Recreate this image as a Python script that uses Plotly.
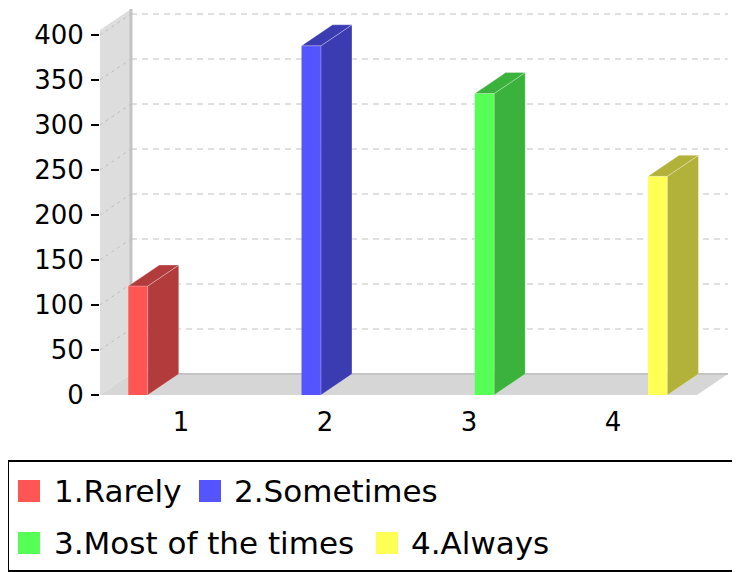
import plotly.graph_objects as go

# data
categories = ["1", "2", "3", "4"]
series_names = ["1.Rarely", "2.Sometimes", "3.Most of the times", "4.Always"]
values = [121, 388, 335, 243]
front_colors = ["#ff5555", "#5555ff", "#55ff55", "#ffff55"]
side_colors = ["#b23b3b", "#3b3bb2", "#3bb23b", "#b2b23b"]
y_ticks = [0, 50, 100, 150, 200, 250, 300, 350, 400]

# page has an 8px body margin, so the figure is drawn 8px smaller
W, H = 732, 564
L, R, T, B = 92, 5, 0, 177
plot_w = W - L - R
plot_h = H - T - B
px_x = 144.0   # pixels per category
px_y = 0.9     # pixels per unit

x_lo = 0.4375
x_range = [x_lo, x_lo + plot_w / px_x]
y_range = [0, plot_h / px_y]

DX = 31 / px_x      # 3d depth offset in x units
DY = 21 / px_y      # 3d depth offset in y units
wall_top = 405.6
floor_right = 4.583
bar_w = 0.135
slot0, slot_step = -0.366, 0.203


# screen pixel (as in the 740x572 window) -> paper coords
def pxx(p):
    return (p - 8 - L) / plot_w


def pxy(p):
    return (H - B - (p - 8)) / plot_h


fig = go.Figure()

shapes = []
# back wall
shapes.append(dict(type="path", layer="below", xref="x", yref="y",
                   path=f"M{x_lo},0 L{x_lo},{wall_top} L{x_lo+DX},{wall_top+DY} L{x_lo+DX},{DY} Z",
                   fillcolor="#dddddd", line=dict(width=0)))
shapes.append(dict(type="line", layer="below", xref="x", yref="y",
                   x0=x_lo+DX, x1=x_lo+DX, y0=DY, y1=wall_top+DY,
                   line=dict(color="#c4c4c4", width=3)))
# floor
shapes.append(dict(type="path", layer="below", xref="x", yref="y",
                   path=f"M{x_lo},0 L{floor_right},0 L{floor_right+DX},{DY} L{x_lo+DX},{DY} Z",
                   fillcolor="#d6d6d6", line=dict(width=0)))
shapes.append(dict(type="line", layer="below", xref="x", yref="y",
                   x0=x_lo+DX, x1=floor_right+DX, y0=DY, y1=DY,
                   line=dict(color="#c4c4c4", width=2)))
# grid lines on the back wall
for t in y_ticks[1:]:
    shapes.append(dict(type="line", layer="below", xref="x", yref="y",
                       x0=x_lo+DX, x1=floor_right+DX, y0=t+DY, y1=t+DY,
                       line=dict(color="#c0c0c0", width=1, dash="6px,5px")))
    shapes.append(dict(type="line", layer="below", xref="x", yref="y",
                       x0=x_lo, x1=x_lo+DX, y0=t, y1=t+DY,
                       line=dict(color="#bdbdbd", width=1, dash="3px,4px")))

# bars: front face + side/top faces
for i, (name, v) in enumerate(zip(series_names, values)):
    cx = i + 1
    off = slot0 + i * slot_step
    xl = cx + off
    xr = xl + bar_w
    fig.add_trace(go.Bar(x=[cx], y=[v], width=[bar_w], offset=[off], name=name,
                         marker=dict(color=front_colors[i], line=dict(width=0)),
                         showlegend=False))
    fig.add_trace(go.Scatter(x=[xr, xr+DX, xr+DX, xr, xr], y=[0, DY, v+DY, v, 0],
                             mode="lines", fill="toself", fillcolor=side_colors[i],
                             line=dict(color="rgba(255,255,255,0.35)", width=0.8),
                             hoverinfo="skip", showlegend=False))
    fig.add_trace(go.Scatter(x=[xl, xl+DX, xr+DX, xr, xl], y=[v, v+DY, v+DY, v, v],
                             mode="lines", fill="toself", fillcolor=side_colors[i],
                             line=dict(color="rgba(255,255,255,0.35)", width=0.8),
                             hoverinfo="skip", showlegend=False))

# legend box (drawn by hand to match the wrapped layout); its right side is off-page
box = dict(color="black", width=2)
shapes.append(dict(type="line", xref="paper", yref="paper",
                   x0=pxx(8), x1=pxx(760), y0=pxy(461), y1=pxy(461), line=box))
shapes.append(dict(type="line", xref="paper", yref="paper",
                   x0=pxx(8), x1=pxx(760), y0=pxy(571), y1=pxy(571), line=box))
shapes.append(dict(type="line", xref="paper", yref="paper",
                   x0=pxx(8), x1=pxx(8), y0=pxy(461), y1=pxy(571), line=box))
legend_pos = [(18, 52, 491), (199, 232, 491), (18, 52, 543), (376, 409, 543)]
annotations = []
for i, (sq, tx, cy) in enumerate(legend_pos):
    shapes.append(dict(type="rect", xref="paper", yref="paper",
                       x0=pxx(sq), x1=pxx(sq+22), y0=pxy(cy-11), y1=pxy(cy+11),
                       line=dict(width=0), fillcolor=front_colors[i]))
    annotations.append(dict(xref="paper", yref="paper", x=pxx(tx), y=pxy(cy),
                            text=series_names[i], showarrow=False,
                            xanchor="left", yanchor="middle",
                            font=dict(family="DejaVu Sans", size=31, color="black")))

fig.update_layout(
    width=W, height=H,
    margin=dict(l=L, r=R, t=T, b=B),
    paper_bgcolor="white", plot_bgcolor="white",
    barmode="overlay",
    shapes=shapes, annotations=annotations,
    font=dict(family="DejaVu Sans", size=26, color="black"),
    xaxis=dict(range=x_range, tickvals=[1, 2, 3, 4], ticktext=categories,
               showgrid=False, zeroline=False, showline=False, ticks="",
               ticklabelstandoff=9, tickfont=dict(size=26)),
    yaxis=dict(range=y_range, tickvals=y_ticks, showgrid=False, zeroline=False,
               showline=False, ticks="outside", ticklen=8, tickwidth=2,
               tickcolor="black", ticklabelstandoff=2, tickfont=dict(size=26)),
)

fig.write_html("out.html")
